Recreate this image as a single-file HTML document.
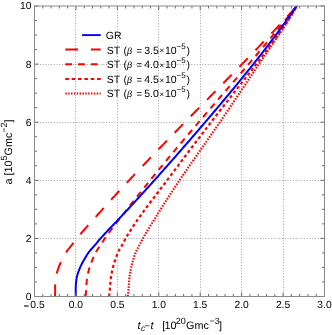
<!DOCTYPE html>
<html><head><meta charset="utf-8"><title>plot</title>
<style>
html,body{margin:0;padding:0;background:#fff;}
body{width:332px;height:335px;overflow:hidden;}
svg{display:block;font-family:"Liberation Sans",sans-serif;will-change:transform;text-rendering:geometricPrecision;}
.g{stroke:#a2a2a2;stroke-width:1;stroke-dasharray:1 1.75;fill:none;}
.t{stroke:#6a6a6a;stroke-width:1;fill:none;}
.tl{font-size:10.3px;fill:#000;}
.lg{font-size:10.5px;fill:#000;}
.ax{font-size:10.8px;fill:#000;}
.c{fill:none;stroke-linejoin:round;}
</style></head>
<body>
<svg width="332" height="335" viewBox="0 0 332 335">
<rect x="0" y="0" width="332" height="335" fill="#fff"/>
<defs><clipPath id="cp"><rect x="34.5" y="6.0" width="290.0" height="290.5"/></clipPath></defs>
<line x1="75.50" y1="6.6" x2="75.50" y2="296.5" class="g"/>
<line x1="117.50" y1="6.6" x2="117.50" y2="296.5" class="g"/>
<line x1="158.50" y1="6.6" x2="158.50" y2="296.5" class="g"/>
<line x1="200.50" y1="6.6" x2="200.50" y2="296.5" class="g"/>
<line x1="241.50" y1="6.6" x2="241.50" y2="296.5" class="g"/>
<line x1="283.50" y1="6.6" x2="283.50" y2="296.5" class="g"/>
<line x1="34.5" y1="238.50" x2="324.5" y2="238.50" class="g"/>
<line x1="34.5" y1="180.50" x2="324.5" y2="180.50" class="g"/>
<line x1="34.5" y1="122.50" x2="324.5" y2="122.50" class="g"/>
<line x1="34.5" y1="64.50" x2="324.5" y2="64.50" class="g"/>
<g clip-path="url(#cp)">
<path class="c" d="M55.08,296.40 L55.09,295.72 L55.10,295.04 L55.11,294.37 L55.12,293.69 L55.13,293.01 L55.13,292.33 L55.13,291.65 L55.13,290.98 L55.13,290.30 L55.13,289.62 L55.13,288.94 L55.13,288.26 L55.13,287.59 L55.14,286.91 L55.15,286.23 L55.17,285.55 L55.20,284.87 L55.22,284.20 L55.25,283.52 L55.29,282.84 L55.35,282.16 L55.41,281.48 L55.47,280.81 L55.54,280.13 L55.61,279.45 L55.69,278.77 L55.79,278.09 L55.89,277.42 L56.00,276.74 L56.12,276.06 L56.25,275.38 L56.41,274.71 L56.59,274.03 L56.78,273.35 L56.96,272.67 L57.16,271.99 L57.37,271.32 L57.59,270.64 L57.81,269.96 L58.03,269.28 L58.25,268.60 L58.47,267.93 L58.71,267.25 L58.96,266.57 L59.24,265.89 L59.52,265.21 L59.81,264.54 L60.10,263.86 L60.41,263.18 L60.71,262.50 L61.03,261.82 L61.35,261.15 L61.69,260.47 L62.03,259.79 L62.38,259.11 L62.74,258.43 L63.08,257.76 L63.42,257.08 L63.75,256.40 L64.48,254.97 L65.30,253.54 L66.25,252.11 L67.28,250.68 L68.35,249.25 L69.48,247.82 L70.67,246.39 L71.82,244.96 L72.91,243.53 L73.97,242.10 L75.03,240.67 L76.12,239.24 L77.26,237.81 L78.45,236.38 L79.69,234.95 L80.94,233.52 L82.18,232.09 L83.43,230.66 L84.69,229.23 L85.95,227.80 L87.22,226.37 L88.49,224.94 L89.77,223.51 L91.05,222.08 L92.33,220.65 L93.62,219.22 L94.90,217.79 L96.18,216.36 L97.46,214.93 L98.74,213.49 L100.03,212.06 L101.31,210.63 L102.60,209.20 L103.89,207.77 L105.18,206.34 L106.47,204.91 L107.77,203.48 L109.07,202.05 L110.37,200.62 L111.67,199.19 L112.97,197.76 L114.28,196.33 L115.59,194.90 L116.90,193.47 L118.22,192.04 L119.54,190.61 L120.85,189.18 L122.18,187.75 L123.50,186.32 L124.83,184.89 L126.16,183.46 L127.49,182.03 L128.82,180.60 L130.16,179.17 L131.50,177.74 L132.84,176.31 L134.18,174.88 L135.53,173.45 L136.88,172.02 L138.23,170.59 L139.58,169.16 L140.93,167.73 L142.29,166.30 L143.65,164.87 L145.01,163.44 L146.37,162.01 L147.74,160.58 L149.11,159.15 L150.47,157.72 L151.85,156.29 L153.22,154.86 L154.59,153.43 L155.97,152.00 L157.35,150.57 L158.73,149.14 L160.11,147.71 L161.49,146.28 L162.87,144.85 L164.26,143.42 L165.64,141.99 L167.03,140.56 L168.42,139.13 L169.81,137.70 L171.20,136.27 L172.60,134.84 L173.99,133.41 L175.38,131.98 L176.78,130.55 L178.18,129.12 L179.57,127.68 L180.97,126.25 L182.37,124.82 L183.77,123.39 L185.17,121.96 L186.58,120.53 L187.98,119.10 L189.38,117.67 L190.79,116.24 L192.19,114.81 L193.60,113.38 L195.00,111.95 L196.41,110.52 L197.82,109.09 L199.22,107.66 L200.63,106.23 L202.04,104.80 L203.45,103.37 L204.86,101.94 L206.27,100.51 L207.68,99.08 L209.08,97.65 L210.49,96.22 L211.90,94.79 L213.31,93.36 L214.72,91.93 L216.13,90.50 L217.54,89.07 L218.95,87.64 L220.35,86.21 L221.76,84.78 L223.17,83.35 L224.58,81.92 L225.98,80.49 L227.39,79.06 L228.79,77.63 L230.20,76.20 L231.60,74.77 L233.00,73.34 L234.40,71.91 L235.80,70.48 L237.20,69.05 L238.60,67.62 L240.00,66.19 L241.39,64.76 L242.79,63.33 L244.18,61.90 L245.57,60.47 L246.96,59.04 L248.35,57.61 L249.74,56.18 L251.12,54.75 L252.51,53.32 L253.89,51.89 L255.27,50.46 L256.65,49.03 L258.02,47.60 L259.40,46.17 L260.77,44.74 L262.14,43.31 L263.51,41.87 L264.87,40.44 L266.23,39.01 L267.59,37.58 L268.95,36.15 L270.31,34.72 L271.66,33.29 L273.01,31.86 L274.36,30.43 L275.70,29.00 L277.04,27.57 L278.38,26.14 L279.72,24.71 L281.05,23.28 L282.38,21.85 L283.70,20.42 L285.03,18.99 L286.35,17.56 L287.66,16.13 L288.98,14.70 L290.29,13.27 L291.59,11.84 L292.89,10.41 L294.19,8.98 L295.49,7.55 L296.78,6.12 L298.07,4.69 L299.35,3.26 L300.63,1.83 L301.90,0.40" stroke="#f00" stroke-width="2" stroke-dasharray="12 11.1"/>
<path class="c" d="M85.55,296.40 L85.63,295.72 L85.71,295.04 L85.78,294.37 L85.85,293.69 L85.91,293.01 L85.97,292.33 L86.02,291.65 L86.07,290.98 L86.11,290.30 L86.15,289.62 L86.19,288.94 L86.22,288.26 L86.25,287.59 L86.29,286.91 L86.33,286.23 L86.38,285.55 L86.42,284.87 L86.46,284.20 L86.51,283.52 L86.56,282.84 L86.62,282.16 L86.69,281.48 L86.76,280.81 L86.83,280.13 L86.90,279.45 L86.98,278.77 L87.07,278.09 L87.16,277.42 L87.27,276.74 L87.37,276.06 L87.50,275.38 L87.64,274.71 L87.80,274.03 L87.96,273.35 L88.13,272.67 L88.30,271.99 L88.49,271.32 L88.67,270.64 L88.86,269.96 L89.04,269.28 L89.23,268.60 L89.42,267.93 L89.62,267.25 L89.83,266.57 L90.06,265.89 L90.30,265.21 L90.55,264.54 L90.79,263.86 L91.04,263.18 L91.30,262.50 L91.56,261.82 L91.83,261.15 L92.11,260.47 L92.40,259.79 L92.70,259.11 L92.99,258.43 L93.27,257.76 L93.55,257.08 L93.82,256.40 L94.41,254.97 L95.09,253.54 L95.89,252.11 L96.76,250.68 L97.67,249.25 L98.65,247.82 L99.67,246.39 L100.65,244.96 L101.58,243.53 L102.46,242.10 L103.35,240.67 L104.25,239.24 L105.21,237.81 L106.23,236.38 L107.29,234.95 L108.35,233.52 L109.42,232.09 L110.49,230.66 L111.57,229.23 L112.66,227.80 L113.75,226.37 L114.85,224.94 L115.96,223.51 L117.07,222.08 L118.18,220.65 L119.30,219.22 L120.41,217.79 L121.53,216.36 L122.65,214.93 L123.77,213.49 L124.89,212.06 L126.01,210.63 L127.13,209.20 L128.25,207.77 L129.38,206.34 L130.50,204.91 L131.63,203.48 L132.76,202.05 L133.89,200.62 L135.03,199.19 L136.16,197.76 L137.30,196.33 L138.43,194.90 L139.57,193.47 L140.72,192.04 L141.86,190.61 L143.00,189.18 L144.15,187.75 L145.30,186.32 L146.45,184.89 L147.60,183.46 L148.76,182.03 L149.91,180.60 L151.07,179.17 L152.23,177.74 L153.39,176.31 L154.56,174.88 L155.72,173.45 L156.89,172.02 L158.06,170.59 L159.23,169.16 L160.41,167.73 L161.58,166.30 L162.76,164.87 L163.94,163.44 L165.12,162.01 L166.30,160.58 L167.49,159.15 L168.68,157.72 L169.86,156.29 L171.05,154.86 L172.25,153.43 L173.44,152.00 L174.63,150.57 L175.83,149.14 L177.03,147.71 L178.23,146.28 L179.43,144.85 L180.63,143.42 L181.84,141.99 L183.04,140.56 L184.25,139.13 L185.46,137.70 L186.67,136.27 L187.88,134.84 L189.09,133.41 L190.31,131.98 L191.52,130.55 L192.74,129.12 L193.96,127.68 L195.17,126.25 L196.39,124.82 L197.62,123.39 L198.84,121.96 L200.06,120.53 L201.29,119.10 L202.51,117.67 L203.74,116.24 L204.96,114.81 L206.19,113.38 L207.42,111.95 L208.65,110.52 L209.88,109.09 L211.11,107.66 L212.34,106.23 L213.58,104.80 L214.81,103.37 L216.04,101.94 L217.27,100.51 L218.51,99.08 L219.74,97.65 L220.98,96.22 L222.21,94.79 L223.45,93.36 L224.68,91.93 L225.92,90.50 L227.15,89.07 L228.38,87.64 L229.62,86.21 L230.85,84.78 L232.09,83.35 L233.32,81.92 L234.56,80.49 L235.79,79.06 L237.02,77.63 L238.25,76.20 L239.48,74.77 L240.72,73.34 L241.95,71.91 L243.17,70.48 L244.40,69.05 L245.63,67.62 L246.86,66.19 L248.08,64.76 L249.31,63.33 L250.53,61.90 L251.75,60.47 L252.97,59.04 L254.19,57.61 L255.41,56.18 L256.62,54.75 L257.84,53.32 L259.05,51.89 L260.26,50.46 L261.47,49.03 L262.68,47.60 L263.89,46.17 L265.09,44.74 L266.29,43.31 L267.49,41.87 L268.69,40.44 L269.88,39.01 L271.08,37.58 L272.27,36.15 L273.46,34.72 L274.64,33.29 L275.83,31.86 L277.01,30.43 L278.18,29.00 L279.36,27.57 L280.53,26.14 L281.70,24.71 L282.87,23.28 L284.03,21.85 L285.19,20.42 L286.35,18.99 L287.51,17.56 L288.66,16.13 L289.81,14.70 L290.95,13.27 L292.09,11.84 L293.23,10.41 L294.36,8.98 L295.49,7.55 L296.62,6.12 L297.75,4.69 L298.87,3.26 L299.98,1.83 L301.09,0.40" stroke="#f00" stroke-width="2" stroke-dasharray="6.2 5.3"/>
<path class="c" d="M109.00,296.40 L109.12,295.72 L109.23,295.04 L109.33,294.37 L109.43,293.69 L109.52,293.01 L109.60,292.33 L109.68,291.65 L109.75,290.98 L109.81,290.30 L109.87,289.62 L109.93,288.94 L109.98,288.26 L110.02,287.59 L110.07,286.91 L110.12,286.23 L110.18,285.55 L110.23,284.87 L110.28,284.20 L110.33,283.52 L110.38,282.84 L110.44,282.16 L110.51,281.48 L110.57,280.81 L110.64,280.13 L110.71,279.45 L110.78,278.77 L110.85,278.09 L110.94,277.42 L111.02,276.74 L111.12,276.06 L111.22,275.38 L111.35,274.71 L111.49,274.03 L111.63,273.35 L111.77,272.67 L111.92,271.99 L112.08,271.32 L112.24,270.64 L112.40,269.96 L112.55,269.28 L112.70,268.60 L112.86,267.93 L113.03,267.25 L113.20,266.57 L113.39,265.89 L113.59,265.21 L113.80,264.54 L114.00,263.86 L114.21,263.18 L114.42,262.50 L114.64,261.82 L114.86,261.15 L115.09,260.47 L115.33,259.79 L115.58,259.11 L115.82,258.43 L116.05,257.76 L116.26,257.08 L116.48,256.40 L116.94,254.97 L117.50,253.54 L118.16,252.11 L118.90,250.68 L119.66,249.25 L120.49,247.82 L121.35,246.39 L122.18,244.96 L122.94,243.53 L123.66,242.10 L124.38,240.67 L125.12,239.24 L125.91,237.81 L126.75,236.38 L127.64,234.95 L128.53,233.52 L129.42,232.09 L130.33,230.66 L131.24,229.23 L132.17,227.80 L133.10,226.37 L134.04,224.94 L135.00,223.51 L135.97,222.08 L136.94,220.65 L137.93,219.22 L138.93,217.79 L139.94,216.36 L140.96,214.93 L142.00,213.49 L143.04,212.06 L144.10,210.63 L145.16,209.20 L146.23,207.77 L147.31,206.34 L148.40,204.91 L149.48,203.48 L150.57,202.05 L151.66,200.62 L152.75,199.19 L153.85,197.76 L154.93,196.33 L156.02,194.90 L157.11,193.47 L158.19,192.04 L159.28,190.61 L160.36,189.18 L161.44,187.75 L162.52,186.32 L163.60,184.89 L164.68,183.46 L165.76,182.03 L166.83,180.60 L167.91,179.17 L168.99,177.74 L170.06,176.31 L171.14,174.88 L172.22,173.45 L173.29,172.02 L174.37,170.59 L175.44,169.16 L176.52,167.73 L177.59,166.30 L178.67,164.87 L179.74,163.44 L180.82,162.01 L181.90,160.58 L182.97,159.15 L184.05,157.72 L185.13,156.29 L186.20,154.86 L187.28,153.43 L188.36,152.00 L189.44,150.57 L190.52,149.14 L191.60,147.71 L192.69,146.28 L193.77,144.85 L194.85,143.42 L195.94,141.99 L197.02,140.56 L198.11,139.13 L199.20,137.70 L200.29,136.27 L201.37,134.84 L202.47,133.41 L203.56,131.98 L204.65,130.55 L205.74,129.12 L206.84,127.68 L207.93,126.25 L209.03,124.82 L210.13,123.39 L211.23,121.96 L212.33,120.53 L213.43,119.10 L214.54,117.67 L215.64,116.24 L216.75,114.81 L217.85,113.38 L218.96,111.95 L220.07,110.52 L221.18,109.09 L222.30,107.66 L223.41,106.23 L224.52,104.80 L225.64,103.37 L226.76,101.94 L227.88,100.51 L229.00,99.08 L230.12,97.65 L231.24,96.22 L232.37,94.79 L233.49,93.36 L234.61,91.93 L235.74,90.50 L236.86,89.07 L237.99,87.64 L239.11,86.21 L240.24,84.78 L241.36,83.35 L242.49,81.92 L243.61,80.49 L244.73,79.06 L245.85,77.63 L246.97,76.20 L248.09,74.77 L249.21,73.34 L250.32,71.91 L251.43,70.48 L252.54,69.05 L253.65,67.62 L254.76,66.19 L255.86,64.76 L256.96,63.33 L258.06,61.90 L259.15,60.47 L260.24,59.04 L261.33,57.61 L262.41,56.18 L263.49,54.75 L264.57,53.32 L265.64,51.89 L266.70,50.46 L267.77,49.03 L268.82,47.60 L269.88,46.17 L270.92,44.74 L271.97,43.31 L273.00,41.87 L274.03,40.44 L275.06,39.01 L276.08,37.58 L277.09,36.15 L278.10,34.72 L279.10,33.29 L280.09,31.86 L281.08,30.43 L282.06,29.00 L283.03,27.57 L284.00,26.14 L284.95,24.71 L285.90,23.28 L286.85,21.85 L287.78,20.42 L288.71,18.99 L289.62,17.56 L290.53,16.13 L291.43,14.70 L292.33,13.27 L293.21,11.84 L294.08,10.41 L294.95,8.98 L295.80,7.55 L296.64,6.12 L297.48,4.69 L298.30,3.26 L299.12,1.83 L299.92,0.40" stroke="#f00" stroke-width="2.25" stroke-dasharray="3.1 2.66"/>
<path class="c" d="M127.70,296.40 L127.82,295.72 L127.93,295.04 L128.03,294.37 L128.13,293.69 L128.22,293.01 L128.30,292.33 L128.37,291.65 L128.44,290.98 L128.50,290.30 L128.56,289.62 L128.61,288.94 L128.65,288.26 L128.69,287.59 L128.73,286.91 L128.78,286.23 L128.82,285.55 L128.87,284.87 L128.91,284.20 L128.94,283.52 L128.99,282.84 L129.04,282.16 L129.09,281.48 L129.15,280.81 L129.20,280.13 L129.25,279.45 L129.31,278.77 L129.37,278.09 L129.44,277.42 L129.51,276.74 L129.59,276.06 L129.68,275.38 L129.79,274.71 L129.91,274.03 L130.04,273.35 L130.16,272.67 L130.29,271.99 L130.43,271.32 L130.57,270.64 L130.71,269.96 L130.84,269.28 L130.97,268.60 L131.10,267.93 L131.25,267.25 L131.40,266.57 L131.57,265.89 L131.74,265.21 L131.92,264.54 L132.11,263.86 L132.29,263.18 L132.48,262.50 L132.67,261.82 L132.86,261.15 L133.07,260.47 L133.28,259.79 L133.50,259.11 L133.71,258.43 L133.92,257.76 L134.11,257.08 L134.29,256.40 L134.71,254.97 L135.21,253.54 L135.82,252.11 L136.50,250.68 L137.22,249.25 L138.00,247.82 L138.82,246.39 L139.61,244.96 L140.33,243.53 L141.02,242.10 L141.70,240.67 L142.40,239.24 L143.16,237.81 L143.98,236.38 L144.83,234.95 L145.70,233.52 L146.55,232.09 L147.42,230.66 L148.29,229.23 L149.17,227.80 L150.05,226.37 L150.93,224.94 L151.82,223.51 L152.71,222.08 L153.60,220.65 L154.50,219.22 L155.39,217.79 L156.28,216.36 L157.17,214.93 L158.06,213.49 L158.95,212.06 L159.84,210.63 L160.74,209.20 L161.64,207.77 L162.54,206.34 L163.44,204.91 L164.34,203.48 L165.25,202.05 L166.17,200.62 L167.08,199.19 L168.00,197.76 L168.93,196.33 L169.86,194.90 L170.79,193.47 L171.73,192.04 L172.67,190.61 L173.61,189.18 L174.56,187.75 L175.51,186.32 L176.46,184.89 L177.42,183.46 L178.38,182.03 L179.34,180.60 L180.31,179.17 L181.28,177.74 L182.25,176.31 L183.22,174.88 L184.20,173.45 L185.18,172.02 L186.16,170.59 L187.15,169.16 L188.13,167.73 L189.12,166.30 L190.11,164.87 L191.10,163.44 L192.10,162.01 L193.09,160.58 L194.09,159.15 L195.08,157.72 L196.08,156.29 L197.08,154.86 L198.08,153.43 L199.09,152.00 L200.09,150.57 L201.09,149.14 L202.09,147.71 L203.10,146.28 L204.10,144.85 L205.11,143.42 L206.11,141.99 L207.11,140.56 L208.11,139.13 L209.12,137.70 L210.12,136.27 L211.12,134.84 L212.12,133.41 L213.11,131.98 L214.11,130.55 L215.11,129.12 L216.10,127.68 L217.09,126.25 L218.08,124.82 L219.07,123.39 L220.05,121.96 L221.03,120.53 L222.02,119.10 L222.99,117.67 L223.97,116.24 L224.94,114.81 L225.92,113.38 L226.89,111.95 L227.85,110.52 L228.82,109.09 L229.79,107.66 L230.75,106.23 L231.71,104.80 L232.67,103.37 L233.63,101.94 L234.59,100.51 L235.55,99.08 L236.51,97.65 L237.47,96.22 L238.42,94.79 L239.38,93.36 L240.33,91.93 L241.29,90.50 L242.24,89.07 L243.20,87.64 L244.15,86.21 L245.10,84.78 L246.06,83.35 L247.01,81.92 L247.96,80.49 L248.92,79.06 L249.87,77.63 L250.83,76.20 L251.78,74.77 L252.74,73.34 L253.70,71.91 L254.66,70.48 L255.61,69.05 L256.57,67.62 L257.53,66.19 L258.49,64.76 L259.46,63.33 L260.42,61.90 L261.39,60.47 L262.35,59.04 L263.32,57.61 L264.29,56.18 L265.26,54.75 L266.24,53.32 L267.21,51.89 L268.19,50.46 L269.17,49.03 L270.15,47.60 L271.13,46.17 L272.11,44.74 L273.10,43.31 L274.08,41.87 L275.07,40.44 L276.05,39.01 L277.03,37.58 L278.01,36.15 L278.98,34.72 L279.95,33.29 L280.92,31.86 L281.88,30.43 L282.83,29.00 L283.78,27.57 L284.72,26.14 L285.65,24.71 L286.57,23.28 L287.48,21.85 L288.38,20.42 L289.27,18.99 L290.15,17.56 L291.02,16.13 L291.87,14.70 L292.70,13.27 L293.53,11.84 L294.33,10.41 L295.12,8.98 L295.90,7.55 L296.65,6.12 L297.39,4.69 L298.11,3.26 L298.81,1.83 L299.49,0.40" stroke="#f00" stroke-width="2.2" stroke-dasharray="1.5 1.38"/>
<path class="c" d="M75.70,296.40 L75.70,295.72 L75.70,295.04 L75.70,294.37 L75.70,293.69 L75.70,293.01 L75.70,292.33 L75.70,291.65 L75.70,290.98 L75.70,290.30 L75.71,289.62 L75.71,288.94 L75.72,288.26 L75.73,287.59 L75.74,286.91 L75.77,286.23 L75.81,285.55 L75.84,284.87 L75.89,284.20 L75.93,283.52 L76.00,282.84 L76.07,282.16 L76.15,281.48 L76.24,280.81 L76.33,280.13 L76.43,279.45 L76.54,278.77 L76.66,278.09 L76.79,277.42 L76.93,276.74 L77.09,276.06 L77.26,275.38 L77.45,274.71 L77.66,274.03 L77.88,273.35 L78.11,272.67 L78.35,271.99 L78.60,271.32 L78.86,270.64 L79.12,269.96 L79.38,269.28 L79.64,268.60 L79.91,267.93 L80.19,267.25 L80.49,266.57 L80.81,265.89 L81.14,265.21 L81.48,264.54 L81.82,263.86 L82.17,263.18 L82.53,262.50 L82.89,261.82 L83.27,261.15 L83.65,260.47 L84.05,259.79 L84.46,259.11 L84.86,258.43 L85.26,257.76 L85.65,257.08 L86.04,256.40 L86.88,254.97 L87.82,253.54 L88.88,252.11 L90.03,250.68 L91.21,249.25 L92.47,247.82 L93.76,246.39 L95.04,244.96 L96.24,243.53 L97.42,242.10 L98.59,240.67 L99.79,239.24 L101.04,237.81 L102.34,236.38 L103.68,234.95 L105.04,233.52 L106.38,232.09 L107.73,230.66 L109.09,229.23 L110.45,227.80 L111.81,226.37 L113.17,224.94 L114.53,223.51 L115.90,222.08 L117.26,220.65 L118.61,219.22 L119.97,217.79 L121.32,216.36 L122.66,214.93 L124.00,213.49 L125.34,212.06 L126.67,210.63 L128.01,209.20 L129.33,207.77 L130.66,206.34 L131.98,204.91 L133.30,203.48 L134.62,202.05 L135.93,200.62 L137.24,199.19 L138.55,197.76 L139.86,196.33 L141.16,194.90 L142.46,193.47 L143.76,192.04 L145.06,190.61 L146.35,189.18 L147.65,187.75 L148.94,186.32 L150.22,184.89 L151.51,183.46 L152.80,182.03 L154.08,180.60 L155.36,179.17 L156.64,177.74 L157.92,176.31 L159.19,174.88 L160.47,173.45 L161.74,172.02 L163.01,170.59 L164.28,169.16 L165.55,167.73 L166.81,166.30 L168.08,164.87 L169.34,163.44 L170.60,162.01 L171.86,160.58 L173.12,159.15 L174.38,157.72 L175.64,156.29 L176.89,154.86 L178.14,153.43 L179.40,152.00 L180.65,150.57 L181.90,149.14 L183.15,147.71 L184.39,146.28 L185.64,144.85 L186.88,143.42 L188.13,141.99 L189.37,140.56 L190.61,139.13 L191.85,137.70 L193.09,136.27 L194.32,134.84 L195.56,133.41 L196.79,131.98 L198.02,130.55 L199.26,129.12 L200.49,127.68 L201.71,126.25 L202.94,124.82 L204.17,123.39 L205.39,121.96 L206.61,120.53 L207.83,119.10 L209.05,117.67 L210.27,116.24 L211.49,114.81 L212.70,113.38 L213.92,111.95 L215.13,110.52 L216.34,109.09 L217.55,107.66 L218.75,106.23 L219.96,104.80 L221.16,103.37 L222.36,101.94 L223.56,100.51 L224.76,99.08 L225.96,97.65 L227.15,96.22 L228.34,94.79 L229.53,93.36 L230.72,91.93 L231.91,90.50 L233.09,89.07 L234.27,87.64 L235.45,86.21 L236.63,84.78 L237.80,83.35 L238.98,81.92 L240.15,80.49 L241.31,79.06 L242.48,77.63 L243.64,76.20 L244.80,74.77 L245.96,73.34 L247.12,71.91 L248.27,70.48 L249.42,69.05 L250.57,67.62 L251.71,66.19 L252.85,64.76 L253.99,63.33 L255.12,61.90 L256.26,60.47 L257.39,59.04 L258.51,57.61 L259.64,56.18 L260.76,54.75 L261.87,53.32 L262.99,51.89 L264.10,50.46 L265.20,49.03 L266.31,47.60 L267.41,46.17 L268.51,44.74 L269.60,43.31 L270.69,41.87 L271.77,40.44 L272.86,39.01 L273.94,37.58 L275.01,36.15 L276.08,34.72 L277.15,33.29 L278.21,31.86 L279.27,30.43 L280.33,29.00 L281.38,27.57 L282.42,26.14 L283.47,24.71 L284.51,23.28 L285.54,21.85 L286.57,20.42 L287.60,18.99 L288.62,17.56 L289.64,16.13 L290.65,14.70 L291.66,13.27 L292.66,11.84 L293.66,10.41 L294.66,8.98 L295.65,7.55 L296.63,6.12 L297.62,4.69 L298.59,3.26 L299.56,1.83 L300.53,0.40" stroke="#00f" stroke-width="2"/>
</g>
<line x1="34.50" y1="296.5" x2="34.50" y2="292.5" class="t"/>
<line x1="34.50" y1="6.0" x2="34.50" y2="10.0" class="t"/>
<line x1="42.79" y1="296.5" x2="42.79" y2="294.0" class="t"/>
<line x1="42.79" y1="6.0" x2="42.79" y2="8.5" class="t"/>
<line x1="51.07" y1="296.5" x2="51.07" y2="294.0" class="t"/>
<line x1="51.07" y1="6.0" x2="51.07" y2="8.5" class="t"/>
<line x1="59.36" y1="296.5" x2="59.36" y2="294.0" class="t"/>
<line x1="59.36" y1="6.0" x2="59.36" y2="8.5" class="t"/>
<line x1="67.64" y1="296.5" x2="67.64" y2="294.0" class="t"/>
<line x1="67.64" y1="6.0" x2="67.64" y2="8.5" class="t"/>
<line x1="75.93" y1="296.5" x2="75.93" y2="292.5" class="t"/>
<line x1="75.93" y1="6.0" x2="75.93" y2="10.0" class="t"/>
<line x1="84.21" y1="296.5" x2="84.21" y2="294.0" class="t"/>
<line x1="84.21" y1="6.0" x2="84.21" y2="8.5" class="t"/>
<line x1="92.50" y1="296.5" x2="92.50" y2="294.0" class="t"/>
<line x1="92.50" y1="6.0" x2="92.50" y2="8.5" class="t"/>
<line x1="100.79" y1="296.5" x2="100.79" y2="294.0" class="t"/>
<line x1="100.79" y1="6.0" x2="100.79" y2="8.5" class="t"/>
<line x1="109.07" y1="296.5" x2="109.07" y2="294.0" class="t"/>
<line x1="109.07" y1="6.0" x2="109.07" y2="8.5" class="t"/>
<line x1="117.36" y1="296.5" x2="117.36" y2="292.5" class="t"/>
<line x1="117.36" y1="6.0" x2="117.36" y2="10.0" class="t"/>
<line x1="125.64" y1="296.5" x2="125.64" y2="294.0" class="t"/>
<line x1="125.64" y1="6.0" x2="125.64" y2="8.5" class="t"/>
<line x1="133.93" y1="296.5" x2="133.93" y2="294.0" class="t"/>
<line x1="133.93" y1="6.0" x2="133.93" y2="8.5" class="t"/>
<line x1="142.21" y1="296.5" x2="142.21" y2="294.0" class="t"/>
<line x1="142.21" y1="6.0" x2="142.21" y2="8.5" class="t"/>
<line x1="150.50" y1="296.5" x2="150.50" y2="294.0" class="t"/>
<line x1="150.50" y1="6.0" x2="150.50" y2="8.5" class="t"/>
<line x1="158.79" y1="296.5" x2="158.79" y2="292.5" class="t"/>
<line x1="158.79" y1="6.0" x2="158.79" y2="10.0" class="t"/>
<line x1="167.07" y1="296.5" x2="167.07" y2="294.0" class="t"/>
<line x1="167.07" y1="6.0" x2="167.07" y2="8.5" class="t"/>
<line x1="175.36" y1="296.5" x2="175.36" y2="294.0" class="t"/>
<line x1="175.36" y1="6.0" x2="175.36" y2="8.5" class="t"/>
<line x1="183.64" y1="296.5" x2="183.64" y2="294.0" class="t"/>
<line x1="183.64" y1="6.0" x2="183.64" y2="8.5" class="t"/>
<line x1="191.93" y1="296.5" x2="191.93" y2="294.0" class="t"/>
<line x1="191.93" y1="6.0" x2="191.93" y2="8.5" class="t"/>
<line x1="200.21" y1="296.5" x2="200.21" y2="292.5" class="t"/>
<line x1="200.21" y1="6.0" x2="200.21" y2="10.0" class="t"/>
<line x1="208.50" y1="296.5" x2="208.50" y2="294.0" class="t"/>
<line x1="208.50" y1="6.0" x2="208.50" y2="8.5" class="t"/>
<line x1="216.79" y1="296.5" x2="216.79" y2="294.0" class="t"/>
<line x1="216.79" y1="6.0" x2="216.79" y2="8.5" class="t"/>
<line x1="225.07" y1="296.5" x2="225.07" y2="294.0" class="t"/>
<line x1="225.07" y1="6.0" x2="225.07" y2="8.5" class="t"/>
<line x1="233.36" y1="296.5" x2="233.36" y2="294.0" class="t"/>
<line x1="233.36" y1="6.0" x2="233.36" y2="8.5" class="t"/>
<line x1="241.64" y1="296.5" x2="241.64" y2="292.5" class="t"/>
<line x1="241.64" y1="6.0" x2="241.64" y2="10.0" class="t"/>
<line x1="249.93" y1="296.5" x2="249.93" y2="294.0" class="t"/>
<line x1="249.93" y1="6.0" x2="249.93" y2="8.5" class="t"/>
<line x1="258.21" y1="296.5" x2="258.21" y2="294.0" class="t"/>
<line x1="258.21" y1="6.0" x2="258.21" y2="8.5" class="t"/>
<line x1="266.50" y1="296.5" x2="266.50" y2="294.0" class="t"/>
<line x1="266.50" y1="6.0" x2="266.50" y2="8.5" class="t"/>
<line x1="274.79" y1="296.5" x2="274.79" y2="294.0" class="t"/>
<line x1="274.79" y1="6.0" x2="274.79" y2="8.5" class="t"/>
<line x1="283.07" y1="296.5" x2="283.07" y2="292.5" class="t"/>
<line x1="283.07" y1="6.0" x2="283.07" y2="10.0" class="t"/>
<line x1="291.36" y1="296.5" x2="291.36" y2="294.0" class="t"/>
<line x1="291.36" y1="6.0" x2="291.36" y2="8.5" class="t"/>
<line x1="299.64" y1="296.5" x2="299.64" y2="294.0" class="t"/>
<line x1="299.64" y1="6.0" x2="299.64" y2="8.5" class="t"/>
<line x1="307.93" y1="296.5" x2="307.93" y2="294.0" class="t"/>
<line x1="307.93" y1="6.0" x2="307.93" y2="8.5" class="t"/>
<line x1="316.21" y1="296.5" x2="316.21" y2="294.0" class="t"/>
<line x1="316.21" y1="6.0" x2="316.21" y2="8.5" class="t"/>
<line x1="324.50" y1="296.5" x2="324.50" y2="292.5" class="t"/>
<line x1="324.50" y1="6.0" x2="324.50" y2="10.0" class="t"/>
<line x1="34.5" y1="296.50" x2="38.5" y2="296.50" class="t"/>
<line x1="324.5" y1="296.50" x2="320.5" y2="296.50" class="t"/>
<line x1="34.5" y1="281.98" x2="37.0" y2="281.98" class="t"/>
<line x1="324.5" y1="281.98" x2="322.0" y2="281.98" class="t"/>
<line x1="34.5" y1="267.45" x2="37.0" y2="267.45" class="t"/>
<line x1="324.5" y1="267.45" x2="322.0" y2="267.45" class="t"/>
<line x1="34.5" y1="252.93" x2="37.0" y2="252.93" class="t"/>
<line x1="324.5" y1="252.93" x2="322.0" y2="252.93" class="t"/>
<line x1="34.5" y1="238.40" x2="38.5" y2="238.40" class="t"/>
<line x1="324.5" y1="238.40" x2="320.5" y2="238.40" class="t"/>
<line x1="34.5" y1="223.88" x2="37.0" y2="223.88" class="t"/>
<line x1="324.5" y1="223.88" x2="322.0" y2="223.88" class="t"/>
<line x1="34.5" y1="209.35" x2="37.0" y2="209.35" class="t"/>
<line x1="324.5" y1="209.35" x2="322.0" y2="209.35" class="t"/>
<line x1="34.5" y1="194.82" x2="37.0" y2="194.82" class="t"/>
<line x1="324.5" y1="194.82" x2="322.0" y2="194.82" class="t"/>
<line x1="34.5" y1="180.30" x2="38.5" y2="180.30" class="t"/>
<line x1="324.5" y1="180.30" x2="320.5" y2="180.30" class="t"/>
<line x1="34.5" y1="165.78" x2="37.0" y2="165.78" class="t"/>
<line x1="324.5" y1="165.78" x2="322.0" y2="165.78" class="t"/>
<line x1="34.5" y1="151.25" x2="37.0" y2="151.25" class="t"/>
<line x1="324.5" y1="151.25" x2="322.0" y2="151.25" class="t"/>
<line x1="34.5" y1="136.72" x2="37.0" y2="136.72" class="t"/>
<line x1="324.5" y1="136.72" x2="322.0" y2="136.72" class="t"/>
<line x1="34.5" y1="122.20" x2="38.5" y2="122.20" class="t"/>
<line x1="324.5" y1="122.20" x2="320.5" y2="122.20" class="t"/>
<line x1="34.5" y1="107.68" x2="37.0" y2="107.68" class="t"/>
<line x1="324.5" y1="107.68" x2="322.0" y2="107.68" class="t"/>
<line x1="34.5" y1="93.15" x2="37.0" y2="93.15" class="t"/>
<line x1="324.5" y1="93.15" x2="322.0" y2="93.15" class="t"/>
<line x1="34.5" y1="78.62" x2="37.0" y2="78.62" class="t"/>
<line x1="324.5" y1="78.62" x2="322.0" y2="78.62" class="t"/>
<line x1="34.5" y1="64.10" x2="38.5" y2="64.10" class="t"/>
<line x1="324.5" y1="64.10" x2="320.5" y2="64.10" class="t"/>
<line x1="34.5" y1="49.57" x2="37.0" y2="49.57" class="t"/>
<line x1="324.5" y1="49.57" x2="322.0" y2="49.57" class="t"/>
<line x1="34.5" y1="35.05" x2="37.0" y2="35.05" class="t"/>
<line x1="324.5" y1="35.05" x2="322.0" y2="35.05" class="t"/>
<line x1="34.5" y1="20.52" x2="37.0" y2="20.52" class="t"/>
<line x1="324.5" y1="20.52" x2="322.0" y2="20.52" class="t"/>
<line x1="34.5" y1="6.00" x2="38.5" y2="6.00" class="t"/>
<line x1="324.5" y1="6.00" x2="320.5" y2="6.00" class="t"/>
<rect x="34.5" y="6.0" width="290.0" height="290.5" fill="none" stroke="#8a8a8a" stroke-width="1"/>
<rect x="24.1" y="305.4" width="4.5" height="1.2" fill="#111"/><text y="307.8" class="tl"><tspan x="30.3">0.5</tspan></text>
<text x="75.93" y="307.8" text-anchor="middle" class="tl">0.0</text>
<text x="117.36" y="307.8" text-anchor="middle" class="tl">0.5</text>
<text x="158.79" y="307.8" text-anchor="middle" class="tl">1.0</text>
<text x="200.21" y="307.8" text-anchor="middle" class="tl">1.5</text>
<text x="241.64" y="307.8" text-anchor="middle" class="tl">2.0</text>
<text x="283.07" y="307.8" text-anchor="middle" class="tl">2.5</text>
<text x="324.50" y="307.8" text-anchor="middle" class="tl">3.0</text>
<text x="31.4" y="299.95" text-anchor="end" class="tl">0</text>
<text x="31.4" y="241.85" text-anchor="end" class="tl">2</text>
<text x="31.4" y="183.75" text-anchor="end" class="tl">4</text>
<text x="31.4" y="125.65" text-anchor="end" class="tl">6</text>
<text x="31.4" y="67.55" text-anchor="end" class="tl">8</text>
<text x="31.4" y="9.45" text-anchor="end" class="tl">10</text>
<line x1="82.1" y1="35.1" x2="100.7" y2="35.1" stroke="#00f" stroke-width="1.9"/>
<line x1="65.3" y1="49.6" x2="100.7" y2="49.6" stroke="#f00" stroke-width="2" stroke-dasharray="12.8 12.8"/>
<line x1="65.3" y1="64.2" x2="100.7" y2="64.2" stroke="#f00" stroke-width="2" stroke-dasharray="6.7 6.1"/>
<line x1="65.3" y1="79.0" x2="100.7" y2="79.0" stroke="#f00" stroke-width="2" stroke-dasharray="3.6 2.75"/>
<line x1="65.3" y1="93.5" x2="100.7" y2="93.5" stroke="#f00" stroke-width="2.1" stroke-dasharray="1.5 1.35"/>
<text x="105.8" y="38.8" class="lg">GR</text>
<text y="53.5" class="lg"><tspan x="106.7">ST</tspan><tspan x="123.5">(</tspan><tspan x="126.9" font-style="italic" font-size="9px">β</tspan><tspan x="136.4" font-size="9.5px">=</tspan><tspan x="144.2">3.5</tspan><tspan x="159.5" font-size="8px" dy="-0.3">×</tspan><tspan x="165" dy="0.3">10</tspan><tspan x="176.5" dy="-5" font-size="8px">−5</tspan><tspan x="186.5" dy="5">)</tspan></text>
<text y="68.1" class="lg"><tspan x="106.7">ST</tspan><tspan x="123.5">(</tspan><tspan x="126.9" font-style="italic" font-size="9px">β</tspan><tspan x="136.4" font-size="9.5px">=</tspan><tspan x="144.2">4.0</tspan><tspan x="159.5" font-size="8px" dy="-0.3">×</tspan><tspan x="165" dy="0.3">10</tspan><tspan x="176.5" dy="-5" font-size="8px">−5</tspan><tspan x="186.5" dy="5">)</tspan></text>
<text y="82.8" class="lg"><tspan x="106.7">ST</tspan><tspan x="123.5">(</tspan><tspan x="126.9" font-style="italic" font-size="9px">β</tspan><tspan x="136.4" font-size="9.5px">=</tspan><tspan x="144.2">4.5</tspan><tspan x="159.5" font-size="8px" dy="-0.3">×</tspan><tspan x="165" dy="0.3">10</tspan><tspan x="176.5" dy="-5" font-size="8px">−5</tspan><tspan x="186.5" dy="5">)</tspan></text>
<text y="97.4" class="lg"><tspan x="106.7">ST</tspan><tspan x="123.5">(</tspan><tspan x="126.9" font-style="italic" font-size="9px">β</tspan><tspan x="136.4" font-size="9.5px">=</tspan><tspan x="144.2">5.0</tspan><tspan x="159.5" font-size="8px" dy="-0.3">×</tspan><tspan x="165" dy="0.3">10</tspan><tspan x="176.5" dy="-5" font-size="8px">−5</tspan><tspan x="186.5" dy="5">)</tspan></text>
<text y="328.7" class="ax"><tspan x="137.6" font-style="italic">t</tspan><tspan x="140.9" font-style="italic" dy="2.4" font-size="8.5px">c</tspan><tspan x="144.4" dy="-2.4" font-size="9.5px">−</tspan><tspan x="150.6" font-style="italic">t</tspan><tspan x="162.2">[</tspan><tspan x="164.4">10</tspan><tspan x="175.8" dy="-5" font-size="9px">20</tspan><tspan x="186" dy="5">Gmc</tspan><tspan x="209.6" dy="-5" font-size="9px">−3</tspan><tspan x="219" dy="5">]</tspan></text>
<text transform="translate(12.3,184.5) rotate(-90)" class="ax">a [10<tspan dy="-5" font-size="9px">5</tspan><tspan dy="5">Gmc</tspan><tspan dy="-5" font-size="9px">−2</tspan><tspan dy="5">]</tspan></text>
</svg>
</body></html>
